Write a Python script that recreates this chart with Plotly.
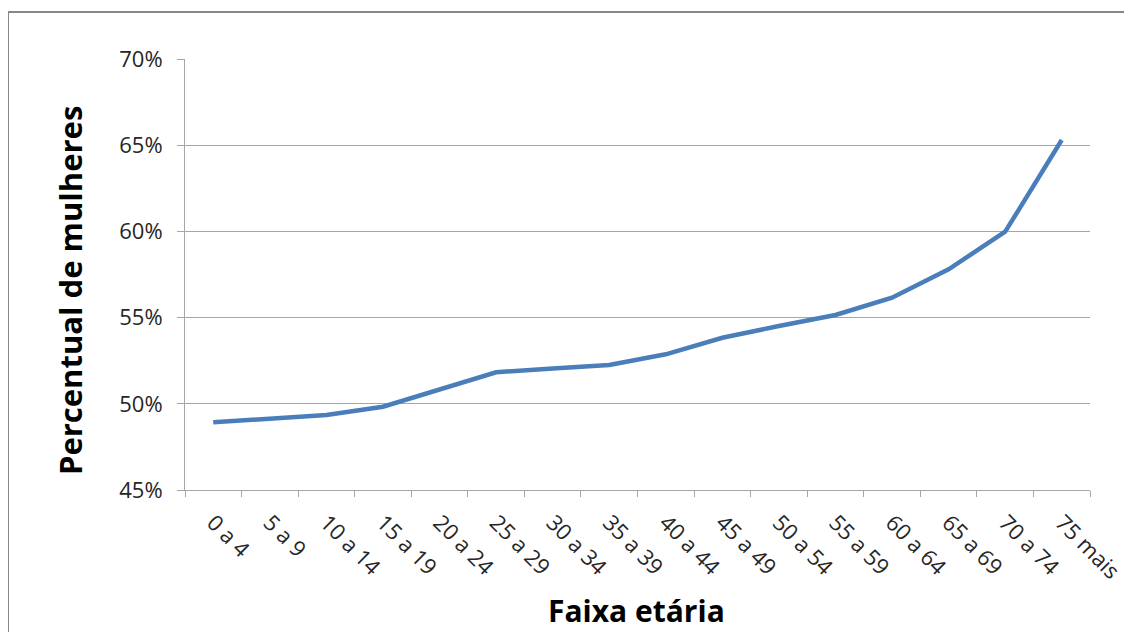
import plotly.graph_objects as go

categories = ["0 a 4", "5 a 9", "10 a 14", "15 a 19", "20 a 24", "25 a 29", "30 a 34",
              "35 a 39", "40 a 44", "45 a 49", "50 a 54", "55 a 59", "60 a 64",
              "65 a 69", "70 a 74", "75 mais"]
pct_mulheres = [0.4893, 0.4914, 0.4935, 0.4983, 0.5083, 0.5183, 0.5205, 0.5225,
                0.5287, 0.5383, 0.5451, 0.5515, 0.5615, 0.5780, 0.5998, 0.6530]
y_ticks = [0.45, 0.50, 0.55, 0.60, 0.65, 0.70]

W, H = 1132, 632
OFF = 8  # page body margin
L, R, T, B = 185 - OFF, 1090 - OFF, 59 - OFF, 490 - OFF  # plot area in figure px

def px_x(p):
    return (p - OFF - L) / (R - L)

def px_y(p):
    return (B - (p - OFF)) / (B - T)

FONT = "Open Sans"
GRID = "#A6A6A6"

fig = go.Figure()
fig.add_trace(go.Scatter(
    x=categories, y=pct_mulheres, mode="lines",
    line=dict(color="#4A7EBB", width=4.5),
    showlegend=False, hoverinfo="x+y",
))

fig.update_layout(
    width=W, height=H,
    margin=dict(l=L, r=W - R, t=T, b=H - B, autoexpand=False),
    paper_bgcolor="white", plot_bgcolor="white",
    font=dict(family=FONT, color="#262626"),
    xaxis=dict(
        type="category", range=[-0.5, len(categories) - 0.5],
        showgrid=False, showline=True, linecolor=GRID, linewidth=1,
        ticks="outside", tickson="boundaries", ticklen=6, tickcolor=GRID,
        tickangle=45, tickfont=dict(family=FONT, size=22, color="#262626"),
        ticklabelstandoff=10,
    ),
    yaxis=dict(
        range=[0.45, 0.70], tickvals=y_ticks, tickformat=".0%",
        showgrid=True, gridcolor=GRID, gridwidth=1,
        showline=True, linecolor=GRID, linewidth=1,
        ticks="outside", ticklen=7, tickcolor=GRID,
        tickfont=dict(family=FONT, size=22, color="#262626"),
        ticklabelstandoff=10, zeroline=False,
    ),
    annotations=[
        dict(text="<b>Percentual de mulheres</b>", xref="paper", yref="paper",
             x=px_x(70), y=px_y(290), textangle=-90, showarrow=False,
             xanchor="center", yanchor="middle",
             font=dict(family=FONT, size=31, color="black")),
        dict(text="<b>Faixa etária</b>", xref="paper", yref="paper",
             x=px_x(636), y=px_y(610), showarrow=False,
             xanchor="center", yanchor="middle",
             font=dict(family=FONT, size=30, color="black")),
    ],
    shapes=[
        dict(type="rect", xref="paper", yref="paper",
             x0=px_x(8), x1=px_x(1145), y0=px_y(645), y1=px_y(12),
             line=dict(color="#878787", width=2), fillcolor="rgba(0,0,0,0)",
             layer="below"),
    ],
)

fig.write_html("out.html")
